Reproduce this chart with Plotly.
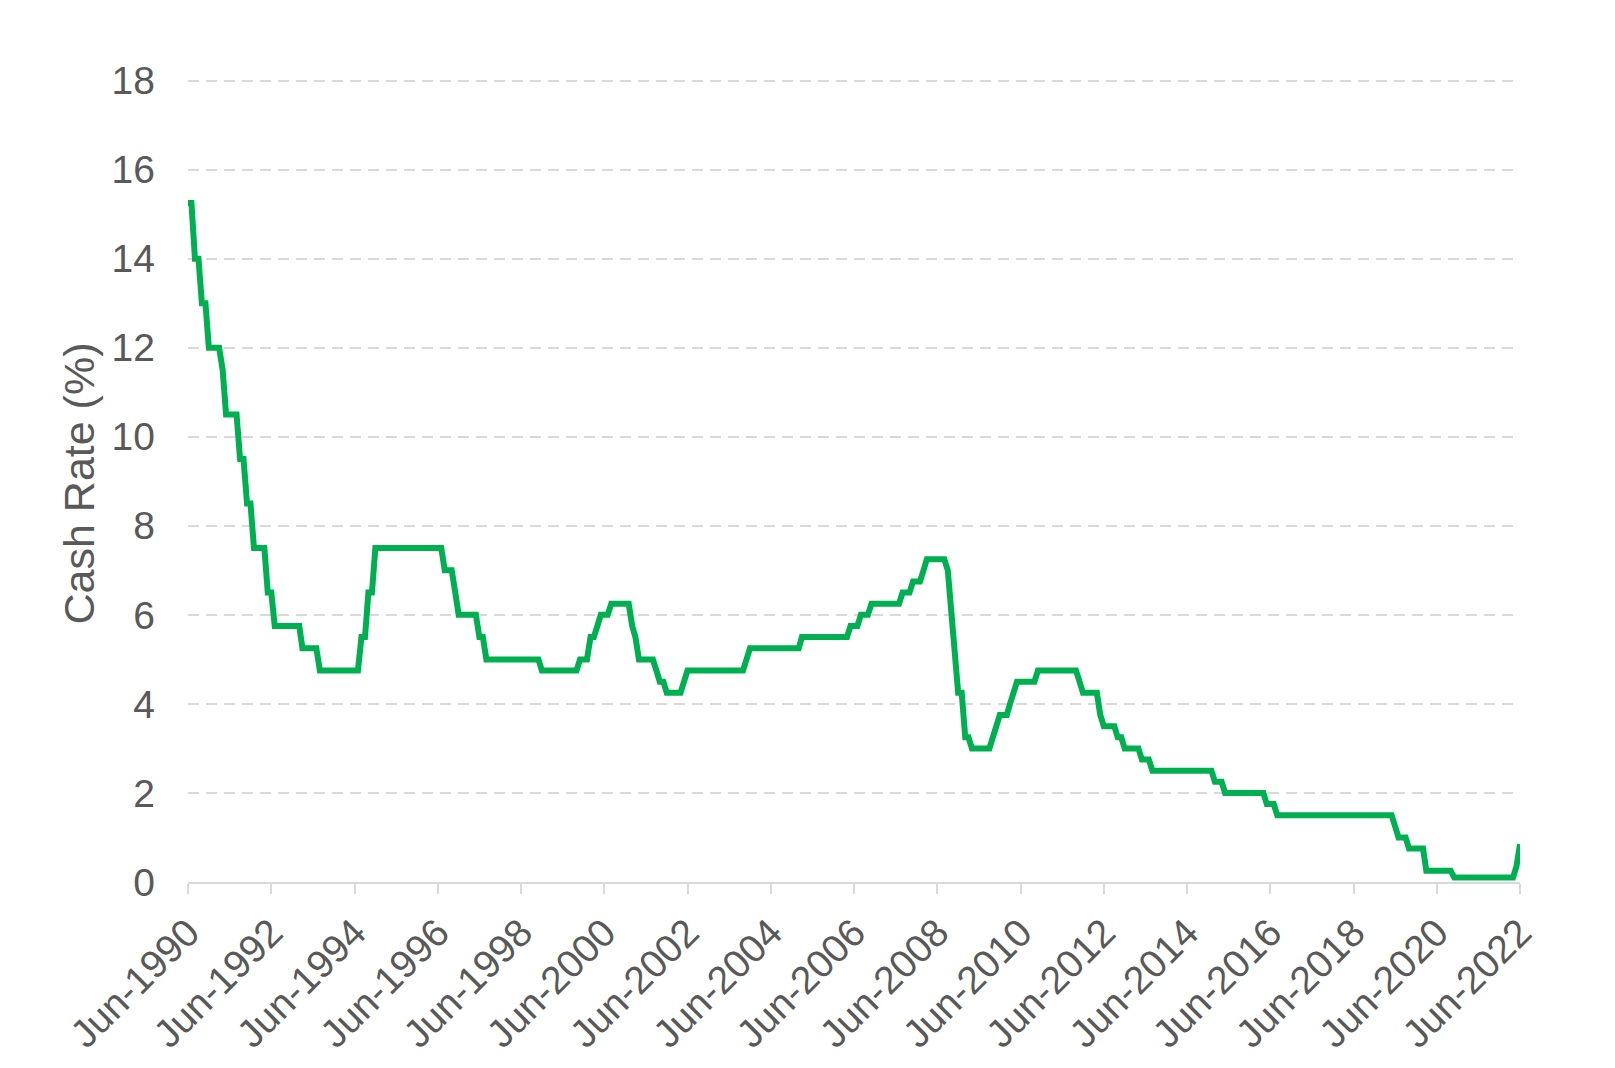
import plotly.graph_objects as go
import pandas as pd

# RBA cash rate target, end of month, Jun-1990 .. Jun-2022 (%)
cash_rate = [
    15.25, 15.25, 14.0, 14.0, 13.0, 13.0, 12.0,                         # 1990 (Jun-Dec)
    12.0, 12.0, 12.0, 11.5, 10.5, 10.5, 10.5, 10.5, 9.5, 9.5, 8.5, 8.5,  # 1991
    7.5, 7.5, 7.5, 7.5, 6.5, 6.5, 5.75, 5.75, 5.75, 5.75, 5.75, 5.75,    # 1992
    5.75, 5.75, 5.25, 5.25, 5.25, 5.25, 5.25, 4.75, 4.75, 4.75, 4.75, 4.75,  # 1993
    4.75, 4.75, 4.75, 4.75, 4.75, 4.75, 4.75, 5.5, 5.5, 6.5, 6.5, 7.5,  # 1994
    7.5, 7.5, 7.5, 7.5, 7.5, 7.5, 7.5, 7.5, 7.5, 7.5, 7.5, 7.5,         # 1995
    7.5, 7.5, 7.5, 7.5, 7.5, 7.5, 7.5, 7.0, 7.0, 7.0, 6.5, 6.0,         # 1996
    6.0, 6.0, 6.0, 6.0, 6.0, 5.5, 5.5, 5.0, 5.0, 5.0, 5.0, 5.0,         # 1997
    5.0, 5.0, 5.0, 5.0, 5.0, 5.0, 5.0, 5.0, 5.0, 5.0, 5.0, 4.75,        # 1998
    4.75, 4.75, 4.75, 4.75, 4.75, 4.75, 4.75, 4.75, 4.75, 4.75, 5.0, 5.0,  # 1999
    5.0, 5.5, 5.5, 5.75, 6.0, 6.0, 6.0, 6.25, 6.25, 6.25, 6.25, 6.25,   # 2000
    6.25, 5.75, 5.5, 5.0, 5.0, 5.0, 5.0, 5.0, 4.75, 4.5, 4.5, 4.25,     # 2001
    4.25, 4.25, 4.25, 4.25, 4.5, 4.75, 4.75, 4.75, 4.75, 4.75, 4.75, 4.75,  # 2002
    4.75, 4.75, 4.75, 4.75, 4.75, 4.75, 4.75, 4.75, 4.75, 4.75, 5.0, 5.25,  # 2003
    5.25, 5.25, 5.25, 5.25, 5.25, 5.25, 5.25, 5.25, 5.25, 5.25, 5.25, 5.25,  # 2004
    5.25, 5.25, 5.5, 5.5, 5.5, 5.5, 5.5, 5.5, 5.5, 5.5, 5.5, 5.5,       # 2005
    5.5, 5.5, 5.5, 5.5, 5.75, 5.75, 5.75, 6.0, 6.0, 6.0, 6.25, 6.25,    # 2006
    6.25, 6.25, 6.25, 6.25, 6.25, 6.25, 6.25, 6.5, 6.5, 6.5, 6.75, 6.75,  # 2007
    6.75, 7.0, 7.25, 7.25, 7.25, 7.25, 7.25, 7.25, 7.0, 6.0, 5.25, 4.25,  # 2008
    4.25, 3.25, 3.25, 3.0, 3.0, 3.0, 3.0, 3.0, 3.0, 3.25, 3.5, 3.75,    # 2009
    3.75, 3.75, 4.0, 4.25, 4.5, 4.5, 4.5, 4.5, 4.5, 4.5, 4.75, 4.75,    # 2010
    4.75, 4.75, 4.75, 4.75, 4.75, 4.75, 4.75, 4.75, 4.75, 4.75, 4.5, 4.25,  # 2011
    4.25, 4.25, 4.25, 4.25, 3.75, 3.5, 3.5, 3.5, 3.5, 3.25, 3.25, 3.0,  # 2012
    3.0, 3.0, 3.0, 3.0, 2.75, 2.75, 2.75, 2.5, 2.5, 2.5, 2.5, 2.5,      # 2013
    2.5, 2.5, 2.5, 2.5, 2.5, 2.5, 2.5, 2.5, 2.5, 2.5, 2.5, 2.5,         # 2014
    2.5, 2.25, 2.25, 2.25, 2.0, 2.0, 2.0, 2.0, 2.0, 2.0, 2.0, 2.0,      # 2015
    2.0, 2.0, 2.0, 2.0, 1.75, 1.75, 1.75, 1.5, 1.5, 1.5, 1.5, 1.5,      # 2016
    1.5, 1.5, 1.5, 1.5, 1.5, 1.5, 1.5, 1.5, 1.5, 1.5, 1.5, 1.5,         # 2017
    1.5, 1.5, 1.5, 1.5, 1.5, 1.5, 1.5, 1.5, 1.5, 1.5, 1.5, 1.5,         # 2018
    1.5, 1.5, 1.5, 1.5, 1.5, 1.25, 1.0, 1.0, 1.0, 0.75, 0.75, 0.75,     # 2019
    0.75, 0.75, 0.25, 0.25, 0.25, 0.25, 0.25, 0.25, 0.25, 0.25, 0.1, 0.1,  # 2020
    0.1, 0.1, 0.1, 0.1, 0.1, 0.1, 0.1, 0.1, 0.1, 0.1, 0.1, 0.1,         # 2021
    0.1, 0.1, 0.1, 0.1, 0.35, 0.85,                                     # 2022 (Jan-Jun)
]
months = pd.date_range("1990-06-01", periods=len(cash_rate), freq="MS")

tick_years = list(range(1990, 2023, 2))
tick_dates = [pd.Timestamp(year=y, month=6, day=1) for y in tick_years]
tick_labels = ["Jun-" + str(y) for y in tick_years]
y_ticks = [0, 2, 4, 6, 8, 10, 12, 14, 16, 18]

GREEN = '#00B050'
GREY_TEXT = '#595959'
GREY_LINE = '#D9D9D9'
FONT = 'Liberation Sans, Arial, sans-serif'

line_trace = go.Scatter(
    x=months, y=cash_rate,
    mode='lines',
    line=dict(color=GREEN, width=6),
    hoverinfo='x+y')

fig = go.Figure(data=[line_trace],
                layout=go.Layout(
                    width=1599, height=1052,
                    showlegend=False,
                    plot_bgcolor='white',
                    paper_bgcolor='white',
                    margin=dict(l=180, r=87, t=69, b=178),
                    font=dict(family=FONT, size=39, color=GREY_TEXT),
                    xaxis=dict(
                        type='date', automargin=False,
                        range=[tick_dates[0], tick_dates[-1]],
                        tickvals=tick_dates, ticktext=tick_labels,
                        tickangle=-45,
                        showgrid=False, zeroline=False,
                        showline=True, linecolor=GREY_LINE, linewidth=2,
                        ticks='outside', ticklen=10, tickwidth=2, tickcolor=GREY_LINE,
                        tickfont=dict(family=FONT, size=39, color=GREY_TEXT)),
                    yaxis=dict(
                        automargin=False,
                        range=[0, 18.08],
                        tickvals=y_ticks,
                        showgrid=True, gridcolor=GREY_LINE, gridwidth=2.3, griddash='11px,7px',
                        zeroline=False, showline=False, ticks='',
                        ticklabelstandoff=32,
                        tickfont=dict(family=FONT, size=39, color=GREY_TEXT)),
                    annotations=[dict(
                        text='Cash Rate (%)', textangle=-90,
                        xref='paper', yref='paper', x=0, y=0.5,
                        xanchor='center', yanchor='middle', xshift=-110, yshift=-4,
                        showarrow=False,
                        font=dict(family=FONT, size=43, color=GREY_TEXT))]
                ))

fig.write_html("out.html")
